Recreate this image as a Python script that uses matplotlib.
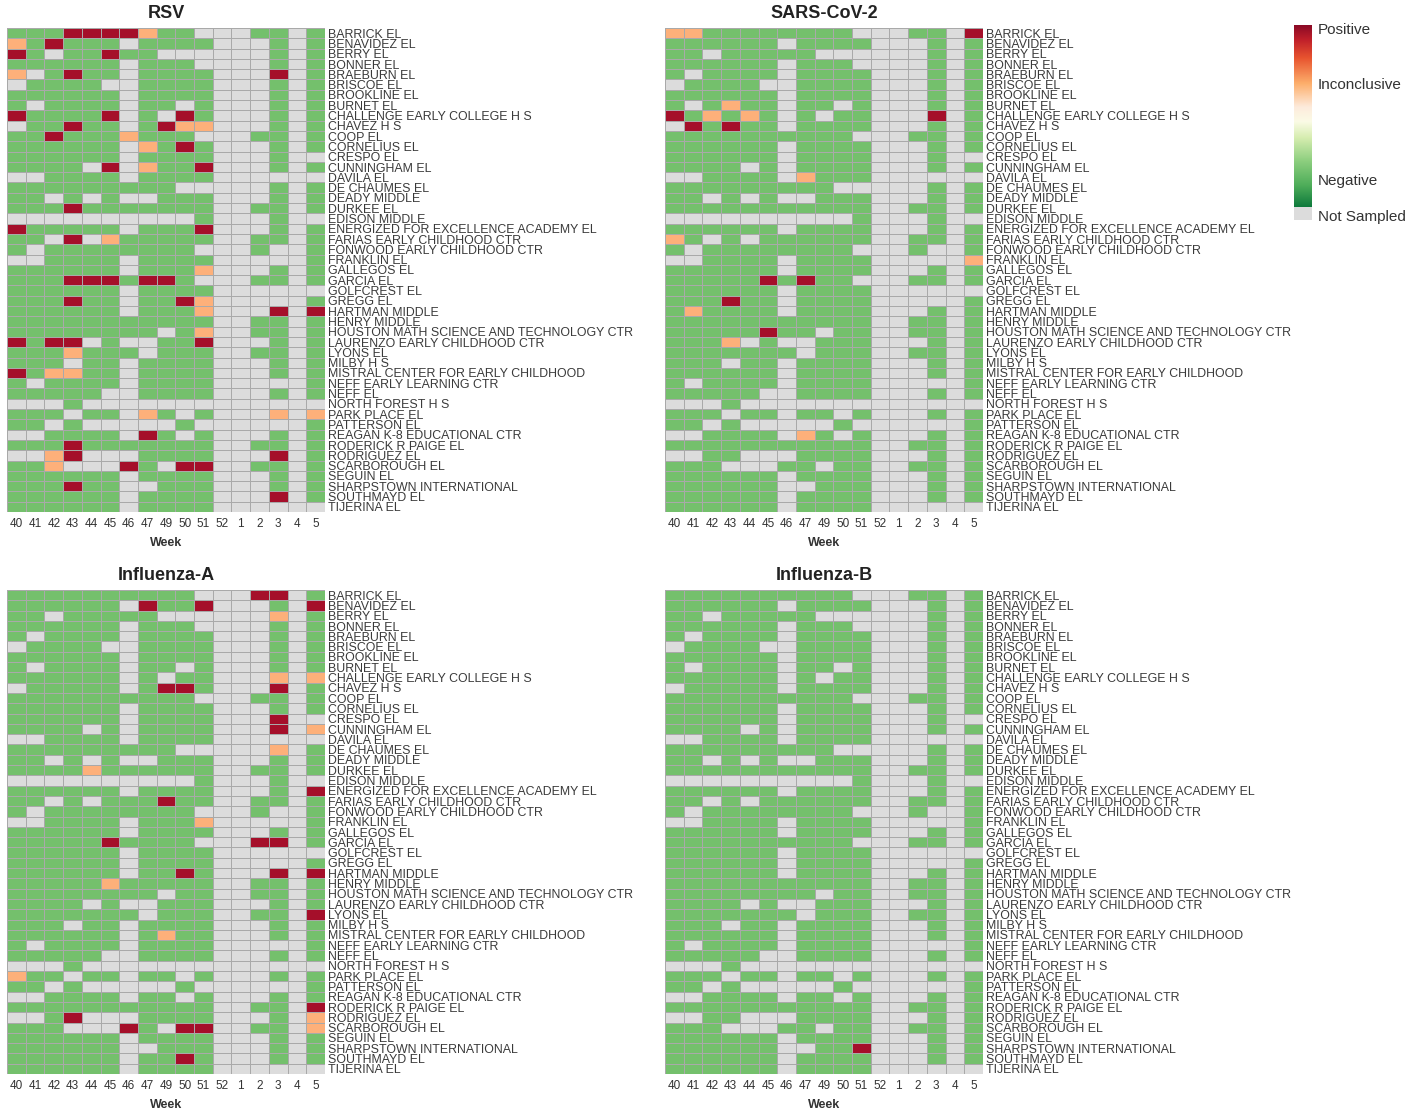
import numpy as np
import matplotlib
matplotlib.use('Agg')
import matplotlib.pyplot as plt
from matplotlib.colors import ListedColormap, LinearSegmentedColormap

plt.rcParams['font.family'] = ['Liberation Sans', 'DejaVu Sans']

weeks = ['40', '41', '42', '43', '44', '45', '46', '47', '49', '50', '51',
         '52', '1', '2', '3', '4', '5']

schools = [
    'BARRICK EL', 'BENAVIDEZ EL', 'BERRY EL', 'BONNER EL', 'BRAEBURN EL',
    'BRISCOE EL', 'BROOKLINE EL', 'BURNET EL', 'CHALLENGE EARLY COLLEGE H S',
    'CHAVEZ H S', 'COOP EL', 'CORNELIUS EL', 'CRESPO EL', 'CUNNINGHAM EL',
    'DAVILA EL', 'DE CHAUMES EL', 'DEADY MIDDLE', 'DURKEE EL', 'EDISON MIDDLE',
    'ENERGIZED FOR EXCELLENCE ACADEMY EL', 'FARIAS EARLY CHILDHOOD CTR',
    'FONWOOD EARLY CHILDHOOD CTR', 'FRANKLIN EL', 'GALLEGOS EL', 'GARCIA EL',
    'GOLFCREST EL', 'GREGG EL', 'HARTMAN MIDDLE', 'HENRY MIDDLE',
    'HOUSTON MATH SCIENCE AND TECHNOLOGY CTR', 'LAURENZO EARLY CHILDHOOD CTR',
    'LYONS EL', 'MILBY H S', 'MISTRAL CENTER FOR EARLY CHILDHOOD',
    'NEFF EARLY LEARNING CTR', 'NEFF EL', 'NORTH FOREST H S', 'PARK PLACE EL',
    'PATTERSON EL', 'REAGAN K-8 EDUCATIONAL CTR', 'RODERICK R PAIGE EL',
    'RODRIGUEZ EL', 'SCARBOROUGH EL', 'SEGUIN EL', 'SHARPSTOWN INTERNATIONAL',
    'SOUTHMAYD EL', 'TIJERINA EL']

# G = negative, I = inconclusive, P = positive, N = not sampled
rsv = [
    'GGGPPPPIGGNNNGGNG', 'IGPGGGNGGGGNNNGNG', 'PGNGGPGGNNNNNNGNG', 'GGGGGGNGGGNNNNGNG',
    'INGPGGNGGGGNNNPNG', 'NGGGGNNGGGGNNNGNG', 'GGGGGGNGGGGNNNGNG', 'GNGGGGNGGNGNNNGNG',
    'PGGGGPNGNPGNNNGNG', 'NGGPGGNGPIINNNGNG', 'GGPGGGIGGGNNNGGNG', 'GGGGGGNIGPGNNNGNG',
    'GGGGGGNGGGGNNNGNN', 'GGGGNPNIGGPNNNGNG', 'NNGGGGNGGGGNNNNNN', 'GGGGGGGGGNNNNNGNG',
    'GGNGNGNNGGGNNNGNG', 'GGGPGGGGGGGNNGGNG', 'NNNNNNNNNNGNNNGNN', 'PGGGGGNGGGPNNNGNG',
    'GGNPNIGGGGGNNGGNG', 'GNGGGGGGGGNNNGNNG', 'NNGGGGNGGGGNNNNNG', 'GGGGGGNGGGINNNGNG',
    'GGGPPPGPPGNNNGGNG', 'GGGGGGNGGGGNNNNNN', 'GGGPGGNGGPINNNNNG', 'GGGGGGNGGGINNNPNP',
    'GGGGGGGGGGGNNGGNG', 'GGGGGGGGNGINNGGNG', 'PGPPNGNNGGPNNNGNG', 'GGGIGGGNGGGNNGGNG',
    'GGGNGGNGGGGNNNGNG', 'PGIIGGNGGGGNNNGNG', 'GNGGGGNGGGGNNNNNG', 'GGGGGNNGGGGNNNGNG',
    'NNNGNNNNNNNNNNNNN', 'GGGNGGNIGNGNNNINI', 'GGNGNNNNNGNNNNNNG', 'NNGGGGNPGNGNNNGNG',
    'GGGPGGGGGGGNNGGNG', 'NNIPNNNGGGGNNNPNG', 'GGINNNPGNPPNNGGNG', 'GGGGGGNGGGGNNNGNG',
    'GGGPGGNNGGGNNNGNG', 'GGGGGGNGGGGNNNPNG', 'GGGGGGNGGGGNNNNNN']

sars = [
    'IIGGGGGGGGNNNGGNP', 'GGGGGGNGGGGNNNGNG', 'GGNGGGGGNNNNNNGNG', 'GGGGGGNGGGNNNNGNG',
    'GNGGGGNGGGGNNNGNG', 'NGGGGNNGGGGNNNGNG', 'GGGGGGNGGGGNNNGNG', 'GNGIGGNGGNGNNNGNG',
    'PGIGIGNGNGGNNNPNG', 'NPGPGGNGGGGNNNGNG', 'GGGGGGGGGGNNNGGNG', 'GGGGGGNGGGGNNNGNG',
    'GGGGGGNGGGGNNNGNN', 'GGGGNGNGGGGNNNGNG', 'NNGGGGNIGGGNNNNNN', 'GGGGGGGGGNNNNNGNG',
    'GGNGNGNNGGGNNNGNG', 'GGGGGGGGGGGNNGGNG', 'NNNNNNNNNNGNNNGNN', 'GGGGGGNGGGGNNNGNG',
    'IGNGNGGGGGGNNGGNG', 'GNGGGGGGGGNNNGNNG', 'NNGGGGNGGGGNNNNNI', 'GGGGGGNGGGGNNNGNG',
    'GGGGGPGPGGNNNGGNG', 'GGGGGGNGGGGNNNNNN', 'GGGPGGNGGGGNNNNNG', 'GIGGGGNGGGGNNNGNG',
    'GGGGGGGGGGGNNGGNG', 'GGGGGPGGNGGNNGGNG', 'GGGINGNNGGGNNNGNG', 'GGGGGGGNGGGNNGGNG',
    'GGGNGGNGGGGNNNGNG', 'GGGGGGNGGGGNNNGNG', 'GNGGGGNGGGGNNNNNG', 'GGGGGNNGGGGNNNGNG',
    'NNNGNNNNNNNNNNNNN', 'GGGNGGNGGNGNNNGNG', 'GGNGNNNNNGNNNNNNG', 'NNGGGGNIGNGNNNGNG',
    'GGGGGGGGGGGNNGGNG', 'NNGGNNNGGGGNNNGNG', 'GGGNNNGGNGGNNGGNG', 'GGGGGGNGGGGNNNGNG',
    'GGGGGGNNGGGNNNGNG', 'GGGGGGNGGGGNNNGNG', 'GGGGGGNGGGGNNNNNN']

flu_a = [
    'GGGGGGGGGGNNNPPNG', 'GGGGGGNPGGPNNNGNP', 'GGNGGGGGNNNNNNING', 'GGGGGGNGGGNNNNGNG',
    'GNGGGGNGGGGNNNGNG', 'NGGGGNNGGGGNNNGNG', 'GGGGGGNGGGGNNNGNG', 'GNGGGGNGGNGNNNGNG',
    'GGGGGGNGNGGNNNINI', 'NGGGGGNGPPGNNNPNG', 'GGGGGGGGGGNNNGGNG', 'GGGGGGNGGGGNNNGNG',
    'GGGGGGNGGGGNNNPNN', 'GGGGNGNGGGGNNNPNI', 'NNGGGGNGGGGNNNNNN', 'GGGGGGGGGNNNNNING',
    'GGNGNGNNGGGNNNGNG', 'GGGGIGGGGGGNNGGNG', 'NNNNNNNNNNGNNNGNN', 'GGGGGGNGGGGNNNGNP',
    'GGNGNGGGPGGNNGGNG', 'GNGGGGGGGGNNNGNNG', 'NNGGGGNGGGINNNNNG', 'GGGGGGNGGGGNNNGNG',
    'GGGGGPGGGGNNNPPNG', 'GGGGGGNGGGGNNNNNN', 'GGGGGGNGGGGNNNNNG', 'GGGGGGNGGPGNNNPNP',
    'GGGGGIGGGGGNNGGNG', 'GGGGGGGGNGGNNGGNG', 'GGGGNGNNGGGNNNGNG', 'GGGGGGGNGGGNNGGNP',
    'GGGNGGNGGGGNNNGNG', 'GGGGGGNGIGGNNNGNG', 'GNGGGGNGGGGNNNNNG', 'GGGGGNNGGGGNNNGNG',
    'NNNGNNNNNNNNNNNNN', 'IGGNGGNGGNGNNNGNG', 'GGNGNNNNNGNNNNNNG', 'NNGGGGNGGNGNNNGNG',
    'GGGGGGGGGGGNNGGNP', 'NNGPNNNGGGGNNNGNI', 'GGGNNNPGNPPNNGGNI', 'GGGGGGNGGGGNNNGNG',
    'GGGGGGNNGGGNNNGNG', 'GGGGGGNGGPGNNNGNG', 'GGGGGGNGGGGNNNNNN']

flu_b = [
    'GGGGGGGGGGNNNGGNG', 'GGGGGGNGGGGNNNGNG', 'GGNGGGGGNNNNNNGNG', 'GGGGGGNGGGNNNNGNG',
    'GNGGGGNGGGGNNNGNG', 'NGGGGNNGGGGNNNGNG', 'GGGGGGNGGGGNNNGNG', 'GNGGGGNGGNGNNNGNG',
    'GGGGGGNGNGGNNNGNG', 'NGGGGGNGGGGNNNGNG', 'GGGGGGGGGGNNNGGNG', 'GGGGGGNGGGGNNNGNG',
    'GGGGGGNGGGGNNNGNN', 'GGGGNGNGGGGNNNGNG', 'NNGGGGNGGGGNNNNNN', 'GGGGGGGGGNNNNNGNG',
    'GGNGNGNNGGGNNNGNG', 'GGGGGGGGGGGNNGGNG', 'NNNNNNNNNNGNNNGNN', 'GGGGGGNGGGGNNNGNG',
    'GGNGNGGGGGGNNGGNG', 'GNGGGGGGGGNNNGNNG', 'NNGGGGNGGGGNNNNNG', 'GGGGGGNGGGGNNNGNG',
    'GGGGGGGGGGNNNGGNG', 'GGGGGGNGGGGNNNNNN', 'GGGGGGNGGGGNNNNNG', 'GGGGGGNGGGGNNNGNG',
    'GGGGGGGGGGGNNGGNG', 'GGGGGGGGNGGNNGGNG', 'GGGGNGNNGGGNNNGNG', 'GGGGGGGNGGGNNGGNG',
    'GGGNGGNGGGGNNNGNG', 'GGGGGGNGGGGNNNGNG', 'GNGGGGNGGGGNNNNNG', 'GGGGGNNGGGGNNNGNG',
    'NNNGNNNNNNNNNNNNN', 'GGGNGGNGGNGNNNGNG', 'GGNGNNNNNGNNNNNNG', 'NNGGGGNGGNGNNNGNG',
    'GGGGGGGGGGGNNGGNG', 'NNGGNNNGGGGNNNGNG', 'GGGNNNGGNGGNNGGNG', 'GGGGGGNGGGGNNNGNG',
    'GGGGGGNNGGPNNNGNG', 'GGGGGGNGGGGNNNGNG', 'GGGGGGNGGGGNNNNNN']

code = {'G': 0, 'I': 1, 'P': 2, 'N': 3}
cell_cmap = ListedColormap(['#74c06c', '#fdb07a', '#a50f2a', '#dcdcdc'])
text_col = '#333333'


def draw_panel(ax, rows, title):
    grid = np.array([[code[c] for c in r] for r in rows])
    ax.pcolormesh(np.arange(len(weeks) + 1), np.arange(len(schools) + 1), grid,
                  cmap=cell_cmap, vmin=-0.5, vmax=3.5,
                  edgecolors='#a9a9a9', linewidth=0.4)
    ax.set_xlim(0, len(weeks))
    ax.set_ylim(len(schools), 0)
    ax.set_xticks(np.arange(len(weeks)) + 0.5)
    ax.set_xticklabels(weeks, fontsize=8.5, color=text_col)
    ax.set_yticks(np.arange(len(schools)) + 0.5)
    ax.set_yticklabels(schools, fontsize=8.9, color='#3a3a3a')
    ax.yaxis.tick_right()
    ax.tick_params(axis='y', length=0, pad=2)
    ax.tick_params(axis='x', length=0, pad=4)
    for s in ax.spines.values():
        s.set_visible(False)
    ax.set_xlabel('Week', fontsize=9, fontweight='bold', color=text_col, labelpad=5)
    ax.set_title(title, fontsize=13, fontweight='bold', color='#222222', pad=7)


fig = plt.figure(figsize=(14.22, 11.13), dpi=100)
W, H = 1422, 1113
panels = [(rsv, 'RSV', 7, 28), (sars, 'SARS-CoV-2', 665, 28),
          (flu_a, 'Influenza-A', 7, 590), (flu_b, 'Influenza-B', 665, 590)]
for rows, title, px, py in panels:
    ax = fig.add_axes([px / W, 1 - (py + 484) / H, 318 / W, 484 / H])
    draw_panel(ax, rows, title)

# legend colour bar
cb_cmap = LinearSegmentedColormap.from_list('res', [
    (0.0, '#0e7a3c'), (0.12, '#4fae5a'), (0.25, '#8cce7e'), (0.38, '#d6edb0'),
    (0.47, '#fbfbe6'), (0.55, '#fdebdc'), (0.68, '#fdae6b'), (0.82, '#e8542f'),
    (0.92, '#c0202a'), (1.0, '#8b0a26')])
cax = fig.add_axes([1294 / W, 1 - 207 / H, 18 / W, 182 / H])
cax.imshow(np.linspace(1, 0, 256)[:, None], aspect='auto', cmap=cb_cmap,
           vmin=0, vmax=1, extent=[0, 1, 0, 1])
cax.axis('off')
gax = fig.add_axes([1294 / W, 1 - 220 / H, 18 / W, 13 / H])
gax.set_facecolor('#dcdcdc')
gax.set_xticks([])
gax.set_yticks([])
for s in gax.spines.values():
    s.set_visible(False)

for label, y in [('Positive', 30), ('Inconclusive', 85), ('Negative', 181),
                 ('Not Sampled', 217)]:
    fig.text(1318 / W, 1 - y / H, label, fontsize=11, color=text_col,
             ha='left', va='center')

fig.savefig('out.png', dpi=100)
